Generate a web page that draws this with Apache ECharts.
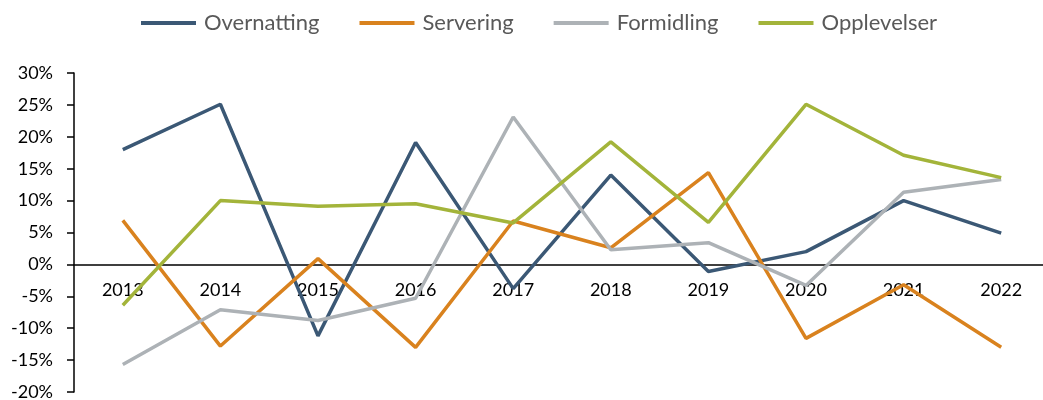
<!DOCTYPE html>
<html>
<head>
<meta charset="utf-8">
<script src="https://cdn.jsdelivr.net/npm/echarts@6/dist/echarts.min.js"></script>
<style>
  html, body { margin: 0; padding: 0; background: #fff; }
  #chart { width: 1043px; height: 400px; }
</style>
</head>
<body>
<div id="chart"></div>
<script>
// data (percent change per year)
var years = ['2013', '2014', '2015', '2016', '2017', '2018', '2019', '2020', '2021', '2022'];
var overnatting = [18.0, 25.1, -11.2, 19.1, -3.8, 14.0, -1.1, 2.0, 10.0, 4.9];
var servering = [6.9, -12.8, 0.9, -13.0, 6.8, 2.6, 14.4, -11.6, -3.2, -13.0];
var formidling = [-15.7, -7.1, -8.8, -5.3, 23.1, 2.3, 3.4, -3.3, 11.3, 13.3];
var opplevelser = [-6.4, 10.0, 9.1, 9.5, 6.5, 19.2, 6.6, 25.1, 17.1, 13.6];

var fontFam = 'Lato, "Open Sans", sans-serif';

var chart = echarts.init(document.getElementById('chart'));

function line(name, data, color) {
    return {
        name: name,
        type: 'line',
        data: data,
        symbol: 'none',
        lineStyle: { width: 3.5, color: color },
        itemStyle: { color: color }
    };
}

// grid: top 73, bottom edge 392 -> zero sits 30/50 of the way down
var gridTop = 73, gridBottom = 392;
var zeroY = gridTop + (gridBottom - gridTop) * 30 / 50;

var option = {
    animation: false,
    textStyle: { fontFamily: fontFam },
    legend: {
        top: 7,
        left: 136,
        icon: 'rect',
        itemWidth: 55,
        itemHeight: 4,
        itemGap: 40,
        textStyle: { color: '#595959', fontSize: 22, fontFamily: fontFam, padding: [0, 0, 0, 3] },
        data: ['Overnatting', 'Servering', 'Formidling', 'Opplevelser']
    },
    grid: { left: 74, width: 976, top: gridTop, bottom: 400 - gridBottom, outerBoundsMode: 'none', containLabel: false },
    xAxis: {
        type: 'category',
        data: years,
        boundaryGap: true,
        position: 'bottom',
        offset: -(gridBottom - zeroY),
        axisLine: { onZero: false, lineStyle: { color: '#000', width: 1.5 } },
        axisTick: { show: false },
        axisLabel: { color: '#000', fontSize: 18, margin: 17, fontFamily: fontFam },
        splitLine: { show: false }
    },
    yAxis: {
        type: 'value',
        min: -20,
        max: 30,
        interval: 5,
        axisLine: { show: true, lineStyle: { color: '#000', width: 1.5 } },
        axisTick: { show: true, inside: false, length: 7, lineStyle: { color: '#000', width: 1.5 } },
        axisLabel: { color: '#000', fontSize: 18, margin: 21, formatter: '{value}%', fontFamily: fontFam },
        splitLine: { show: false }
    },
    series: [
        line('Overnatting', overnatting, '#3B5875'),
        line('Servering', servering, '#D9821E'),
        line('Formidling', formidling, '#ADB2B6'),
        line('Opplevelser', opplevelser, '#A3B43A')
    ]
};

chart.setOption(option);
</script>
</body>
</html>
